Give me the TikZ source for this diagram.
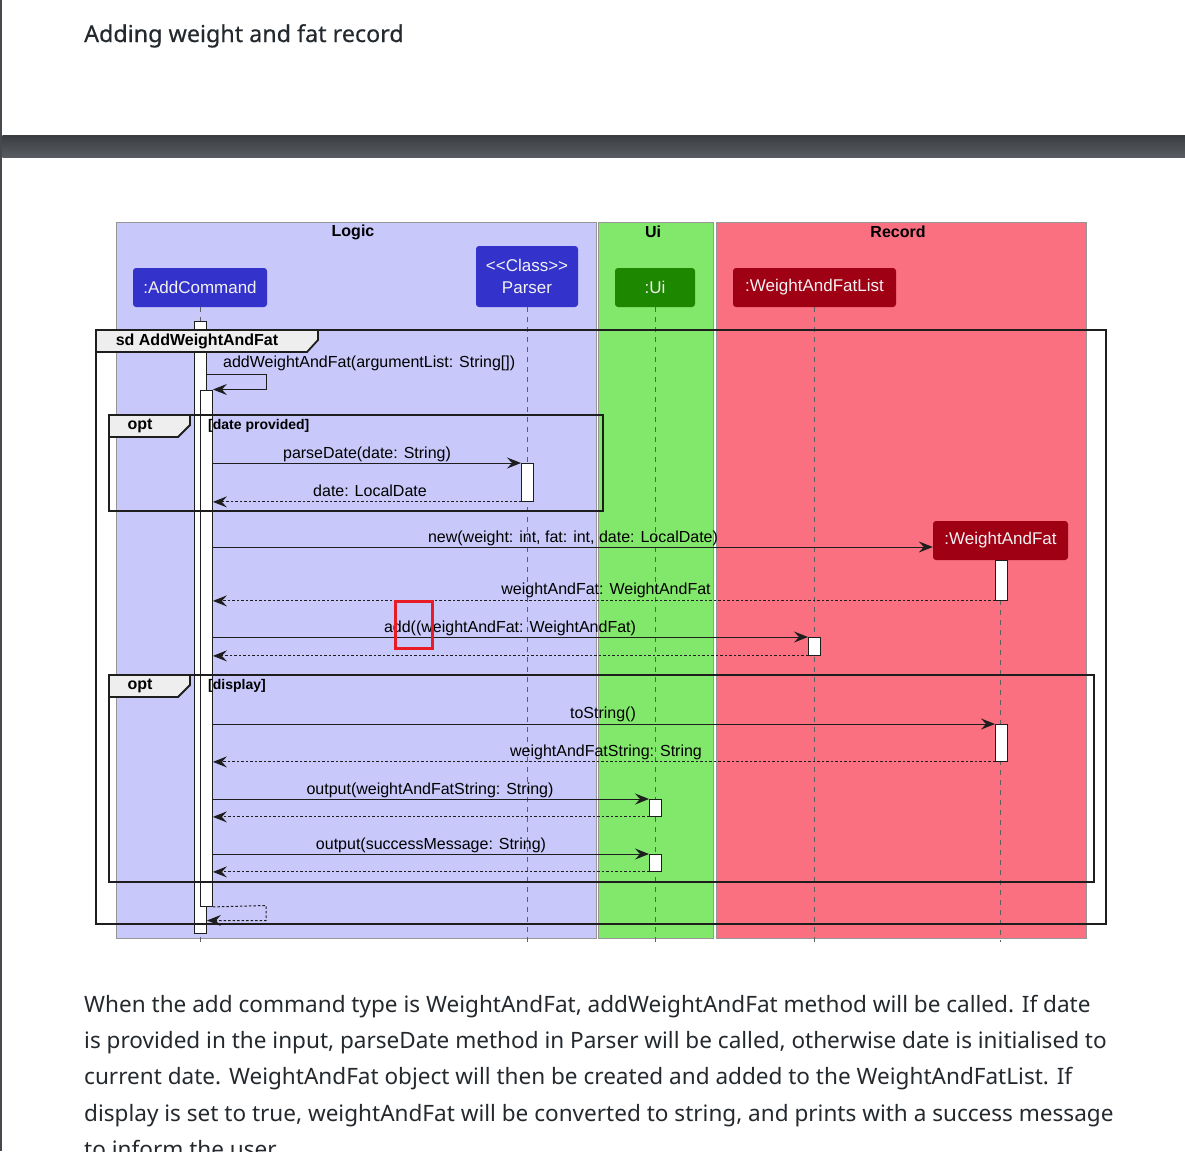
\documentclass[tikz,border=0pt]{standalone}
\usepackage{fontspec}
\setmainfont{Liberation Sans}
\newfontfamily\headfont[FakeBold=0.4]{Noto Sans}
\newfontfamily\bodyfont{Noto Sans}
\usetikzlibrary{arrows.meta}
\definecolor{logicc}{RGB}{200,200,250}
\definecolor{uic}{RGB}{130,232,108}
\definecolor{recc}{RGB}{250,112,128}
\definecolor{bluep}{RGB}{51,51,204}
\definecolor{greenp}{RGB}{30,135,0}
\definecolor{redp}{RGB}{160,0,20}
\definecolor{grpline}{RGB}{150,150,150}
\definecolor{linec}{RGB}{30,30,30}
\definecolor{tabc}{RGB}{238,238,238}
\definecolor{txtc}{RGB}{36,41,46}
\definecolor{edgec}{RGB}{70,74,78}
\definecolor{lifec}{RGB}{95,95,95}
\definecolor{annot}{RGB}{232,28,36}
\tikzset{
  part/.style={rectangle, rounded corners=3pt, text=white!90!gray, font=\fontsize{17}{22}\selectfont, inner sep=0pt, minimum height=39pt, align=center},
  actbar/.style={rectangle, draw=linec, fill=white, line width=0.9pt, inner sep=0pt, minimum width=12pt, anchor=north west},
  msg/.style={draw=linec, line width=1pt, -{Stealth[length=14pt,width=11pt,inset=5pt]}},
  ret/.style={msg, dash pattern=on 2.5pt off 2pt},
  lbl/.style={font=\fontsize{16}{18}\selectfont, inner sep=0pt, anchor=base, text=black},
  lifeline/.style={draw=lifec, dash pattern=on 5pt off 5pt, line width=0.9pt},
  frm/.style={draw=linec, line width=1.8pt},
  grptitle/.style={font=\bfseries\fontsize{16}{18}\selectfont, inner sep=0pt},
  tabtxt/.style={font=\bfseries\fontsize{16}{18}\selectfont, inner sep=0pt},
  guard/.style={font=\bfseries\fontsize{14}{16}\selectfont, inner sep=0pt, anchor=west},
  body/.style={font=\bodyfont\fontsize{22.55}{26}\selectfont, text=txtc, inner sep=0pt, anchor=base west}
}
\begin{document}
\begin{tikzpicture}[x=1pt,y=-1pt]
\useasboundingbox (0,0) rectangle (1185,1151);
\clip (0,0) rectangle (1185,1151);
\fill[white] (0,0) rectangle (1185,1151);
\fill[edgec] (0,0) rectangle (2.3,1151);
\shade[top color={rgb,255:red,58;green,61;blue,64}, bottom color={rgb,255:red,88;green,92;blue,96}] (2.3,135) rectangle (1185,157);
\node[font=\headfont\fontsize{23.3}{28}\selectfont, text=txtc, inner sep=0pt, anchor=base west] (head) at (84,42) {Adding weight and fat record};

% groups
\fill[logicc] (116,222) rectangle (596,938);
\draw[grpline, line width=0.8pt] (116,222) rectangle (596,938);
\fill[uic] (598,222) rectangle (713,938);
\draw[grpline, line width=0.8pt] (598,222) rectangle (713,938);
\fill[recc] (716,222) rectangle (1086,938);
\draw[grpline, line width=0.8pt] (716,222) rectangle (1086,938);
\node[grptitle] (tlogic) at (353,232) {Logic};
\node[grptitle] (tui) at (653,232) {Ui};
\node[grptitle] (trec) at (898,232) {Record};

% participants
\node[part, fill=bluep, minimum width=134pt] (addcmd) at (200,287.5) {:AddCommand};
\node[part, fill=bluep, minimum width=102pt, minimum height=61pt] (parser) at (527,276.5) {<{}<Class>{}>\\Parser};
\node[part, fill=greenp, minimum width=80pt] (ui) at (655,287.5) {:Ui};
\node[part, fill=redp, minimum width=163pt] (wlist) at (814.5,287.5) {:WeightAndFatList};
\node[part, fill=redp, minimum width=135pt] (wf) at (1000.5,540.5) {:WeightAndFat};

% lifelines
\coordinate (endA) at (200,942);
\draw[lifeline] (addcmd.south) -- (endA);
\draw[lifeline] (parser.south) -- (parser.south |- endA);
\draw[lifeline] (ui.south) -- (ui.south |- endA);
\draw[lifeline] (wlist.south) -- (wlist.south |- endA);
\draw[lifeline] (wf.south) -- (wf.south |- endA);

% activation bars
\node[actbar, minimum height=612pt] (mainbar) at (194,321) {};
\node[actbar, minimum height=516pt] (nest) at (200,390) {};
\node[actbar, minimum height=38pt] (pb) at (521,463) {};
\node[actbar, minimum height=40pt] (wf1) at (995,560) {};
\node[actbar, minimum height=18pt] (wl) at (808,637) {};
\node[actbar, minimum height=37pt] (wf2) at (995,724) {};
\node[actbar, minimum height=17pt] (ui1) at (649,799) {};
\node[actbar, minimum height=17pt] (ui2) at (649,854) {};

% sd frame
\draw[frm] (96,330) rectangle (1106,924);
\draw[frm, fill=tabc] (96,330) -- (318,330) -- (318,340) -- (307,352) -- (96,352) -- cycle;
\node[tabtxt] (sdlbl) at (197,341) {sd AddWeightAndFat};

% opt 1
\draw[frm] (109,415) rectangle (603,511);
\draw[frm, fill=tabc] (109,415) -- (190,415) -- (190,425) -- (178,437) -- (109,437) -- cycle;
\node[tabtxt] (opt1) at (140,426) {opt};
\node[guard] (g1) at (208,426) {[date provided]};

% opt 2
\draw[frm] (109,675) rectangle (1094,882);
\draw[frm, fill=tabc] (109,675) -- (190,675) -- (190,685) -- (178,697) -- (109,697) -- cycle;
\node[tabtxt] (opt2) at (140,686) {opt};
\node[guard] (g2) at (208,686) {[display]};

% self call
\coordinate (s1) at (266,374);
\coordinate (s2) at (266,389.5);
\draw[msg] (mainbar.east |- s1) -- (s1) -- (s2) -- (nest.east |- s2);
\node[lbl, anchor=base west] (l0) at (223,367) {addWeightAndFat(argumentList: String[])};

% parseDate
\draw[msg] (nest.east |- pb.north) -- (pb.north west);
\node[lbl] (l1) at (367,458) {parseDate(date: String)};
\draw[ret] (pb.south west) -- (nest.east |- pb.south);
\node[lbl] (l2) at (370,496) {date: LocalDate};

% new
\coordinate (newtip) at (wf.west |- 0,547);
\draw[msg] (nest.east |- newtip) -- (newtip);
\node[lbl] (l3) at (573,542) {new(weight: int, fat: int, date: LocalDate)};
\draw[ret] (wf1.south west) -- (nest.east |- wf1.south);
\node[lbl] (l4) at (606,594.5) {weightAndFat: WeightAndFat};

% add
\draw[msg] (nest.east |- wl.north) -- (wl.north west);
\node[lbl] (l5) at (510,632) {add((weightAndFat: WeightAndFat)};
\draw[ret] (wl.south west) -- (nest.east |- wl.south);

% toString
\draw[msg] (nest.east |- wf2.north) -- (wf2.north west);
\node[lbl] (l6) at (603,718) {toString()};
\draw[ret] (wf2.south west) -- (nest.east |- wf2.south);
\node[lbl] (l7) at (606,756) {weightAndFatString: String};

% output 1
\draw[msg] (nest.east |- ui1.north) -- (ui1.north west);
\node[lbl] (l8) at (430,794) {output(weightAndFatString: String)};
\draw[ret] (ui1.south west) -- (nest.east |- ui1.south);

% output 2
\draw[msg] (nest.east |- ui2.north) -- (ui2.north west);
\node[lbl] (l9) at (431,849) {output(successMessage: String)};
\draw[ret] (ui2.south west) -- (nest.east |- ui2.south);

% final return
\coordinate (r1) at (266,905.5);
\coordinate (r2) at (266,920.5);
\draw[ret] (nest.south east) -- (r1) -- (r2) -- (mainbar.east |- r2);

% annotation
\draw[annot, line width=3pt] (395.5,601.5) rectangle (432,648.5);

% body text
\node[body] (b1) at (84,1012) {When the add command type is WeightAndFat, addWeightAndFat method will be called. If date};
\node[body] (b2) at (84,1048) {is provided in the input, parseDate method in Parser will be called, otherwise date is initialised to};
\node[body] (b3) at (84,1084) {current date. WeightAndFat object will then be created and added to the WeightAndFatList. If};
\node[body] (b4) at (84,1121) {display is set to true, weightAndFat will be converted to string, and prints with a success message};
\node[body] (b5) at (84,1157) {to inform the user.};
\end{tikzpicture}
\end{document}
